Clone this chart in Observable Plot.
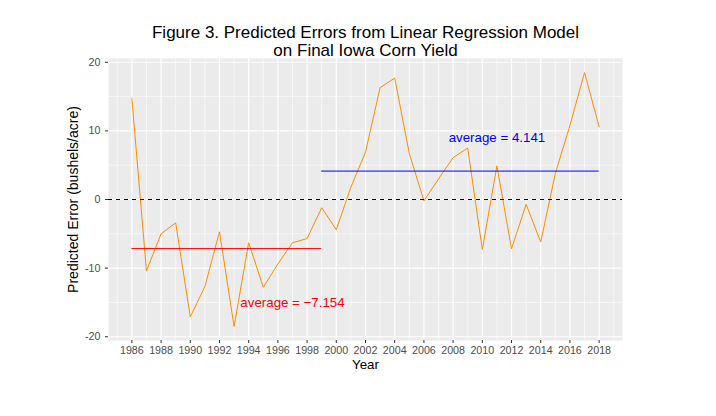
<!DOCTYPE html>
<html>
<head>
<meta charset="utf-8">
<script src="https://cdn.jsdelivr.net/npm/d3@7"></script>
<script src="https://cdn.jsdelivr.net/npm/@observablehq/plot@0.6"></script>
<style>
  html, body { margin: 0; padding: 0; background: #ffffff; }
  #chart svg { display: block; }
</style>
</head>
<body>
<div id="chart"></div>
<script>
// ---- data ----
const years = [1986, 1987, 1988, 1989, 1990, 1991, 1992, 1993, 1994, 1995, 1996,
               1997, 1998, 1999, 2000, 2001, 2002, 2003, 2004, 2005, 2006, 2007,
               2008, 2009, 2010, 2011, 2012, 2013, 2014, 2015, 2016, 2017, 2018];
const errors = [14.7, -10.4, -5.0, -3.4, -17.1, -12.7, -4.7, -18.5, -6.3, -12.8, -9.4,
                -6.3, -5.7, -1.2, -4.4, 1.8, 6.9, 16.3, 17.7, 6.7, -0.2, 3.0,
                6.1, 7.5, -7.3, 4.9, -7.2, -0.7, -6.2, 3.8, 10.8, 18.5, 10.6];

// period averages (value, year span, label, label anchor)
const avgValues = [-7.154, 4.141];
const avgStart = [1986, 1999];
const avgEnd = [1999, 2018];
const avgLabels = ["average = \u22127.154", "average = 4.141"];
const avgLabelYear = [1997, 2011];
const avgLabelValue = [-15, 9];

// ticks
const xTicks = [1986, 1988, 1990, 1992, 1994, 1996, 1998, 2000, 2002, 2004, 2006,
                2008, 2010, 2012, 2014, 2016, 2018];
const xMinor = [1985, 1987, 1989, 1991, 1993, 1995, 1997, 1999, 2001, 2003, 2005,
                2007, 2009, 2011, 2013, 2015, 2017, 2019];
const yTicks = [-20, -10, 0, 10, 20];
const yMinor = [-15, -5, 5, 15];

// texts
const titleLines = ["Figure 3. Predicted Errors from Linear Regression Model", "on Final Iowa Corn Yield"];
const xTitle = "Year";
const yTitle = "Predicted Error (bushels/acre)";

// ---- build tables ----
const series = years.map((year, i) => ({year, error: errors[i]}));
const avgs = avgValues.map((v, i) => ({
  value: v, from: avgStart[i], to: avgEnd[i],
  label: avgLabels[i], lx: avgLabelYear[i], ly: avgLabelValue[i]
}));
const avgColors = ["#FF0000", "#0000FF"];

const font = "'Liberation Sans', Arial, Helvetica, sans-serif";

const chart = Plot.plot({
  width: 716,
  height: 416,
  marginLeft: 108,
  marginRight: 94,
  marginTop: 58,
  marginBottom: 76,
  style: {fontFamily: font, background: "#ffffff", overflow: "visible"},
  x: {domain: [1984.4, 2019.6]},
  y: {domain: [-20.55, 20.55]},
  marks: [
    Plot.frame({fill: "#EBEBEB", stroke: null}),
    Plot.ruleX(xMinor, {stroke: "#ffffff", strokeWidth: 0.6}),
    Plot.ruleY(yMinor, {stroke: "#ffffff", strokeWidth: 0.6}),
    Plot.ruleX(xTicks, {stroke: "#ffffff", strokeWidth: 1.2}),
    Plot.ruleY(yTicks, {stroke: "#ffffff", strokeWidth: 1.2}),
    Plot.axisX(xTicks, {
      tickSize: 3, tickPadding: 3, tickFormat: d => String(d),
      fontSize: 10.7, stroke: "#333333", fill: "#4D4D4D", label: null
    }),
    Plot.axisY(yTicks, {
      tickSize: 3, tickPadding: 5, tickFormat: d => String(d),
      fontSize: 10.7, stroke: "#333333", fill: "#4D4D4D", label: null
    }),
    Plot.line(series, {x: "year", y: "error", stroke: "#FF8C00", strokeWidth: 1}),
    Plot.ruleY(avgs, {y: "value", x1: "from", x2: "to", stroke: (d, i) => avgColors[i], strokeWidth: 1}),
    Plot.ruleY([0], {stroke: "#000000", strokeWidth: 1, strokeDasharray: "4,4"}),
    Plot.text(avgs, {x: "lx", y: "ly", text: "label", fill: (d, i) => avgColors[i], fontSize: 13.3}),
    Plot.text([xTitle], {text: d => d, frameAnchor: "bottom", dy: 28, fontSize: 13.3, fill: "#000000"}),
    Plot.text([yTitle], {text: d => d, frameAnchor: "left", textAnchor: "middle", dx: -35, rotate: -90, fontSize: 14, fill: "#000000"}),
    Plot.text([titleLines[0]], {text: d => d, frameAnchor: "top", dy: -33, fontSize: 17, fill: "#000000"}),
    Plot.text([titleLines[1]], {text: d => d, frameAnchor: "top", dy: -15, fontSize: 17, fill: "#000000"})
  ]
});

document.getElementById("chart").appendChild(chart);
</script>
</body>
</html>
